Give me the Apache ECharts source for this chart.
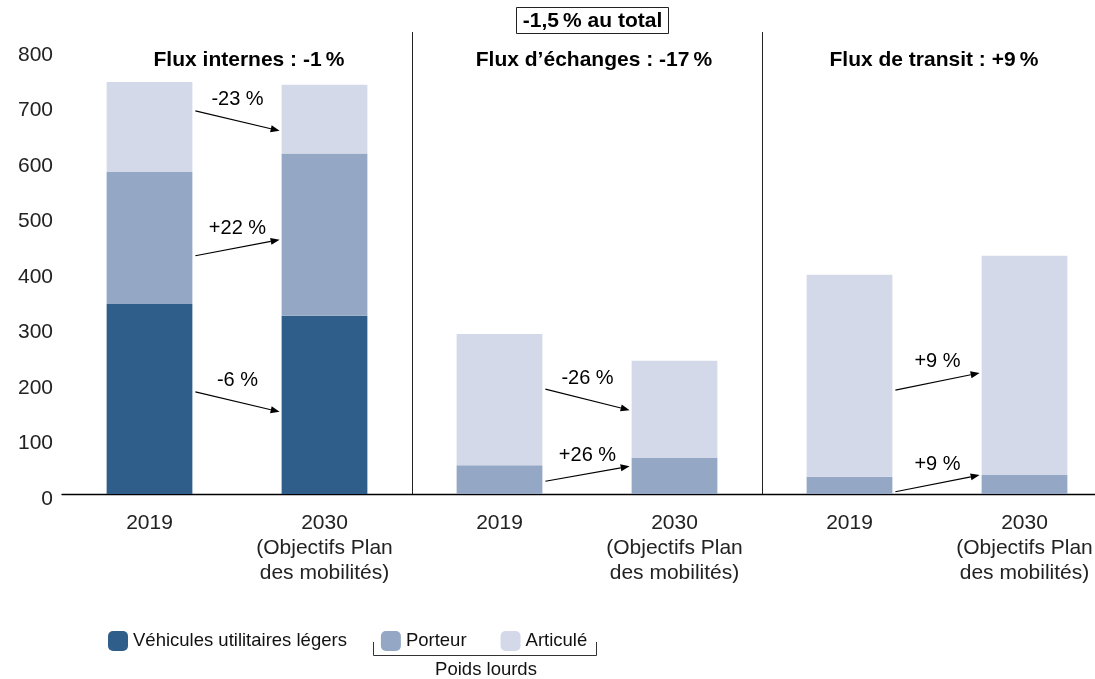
<!DOCTYPE html>
<html>
<head>
<meta charset="utf-8">
<script src="https://cdn.jsdelivr.net/npm/echarts@6/dist/echarts.min.js"></script>
<style>
  html, body { margin: 0; padding: 0; background: #fff; overflow: hidden; }
  /* the last category band runs past the right edge of the window */
  #chart { width: 1112px; height: 679px; }
</style>
</head>
<body>
<div id="chart"></div>
<script>
// Categories: three groups of flows, each with 2019 and the 2030 target
const categories = [
  '2019', '2030\n(Objectifs Plan\ndes mobilités)',
  '2019', '2030\n(Objectifs Plan\ndes mobilités)',
  '2019', '2030\n(Objectifs Plan\ndes mobilités)'
];

// Stacked values per vehicle type
const vul      = [342, 321, 0, 0, 0, 0];
const porteur  = [238, 292, 52, 65, 31, 34];
const articule = [162, 124, 236, 175, 364, 395];

const seriesNames = ['Véhicules utilitaires légers', 'Porteur', 'Articulé'];
const seriesColors = ['#2f5e8a', '#94a7c4', '#d3d9e8'];

// Panel headings and overall change
const panelTitles = ['Flux internes : -1\u202f%', 'Flux d\u2019échanges : -17\u202f%', 'Flux de transit : +9\u202f%'];
const totalNote = '-1,5\u202f% au total';
const groupLabel = 'Poids lourds';

// Change arrows between 2019 and 2030 bars of each panel (anchor values on the y scale)
const arrowPanel = [0, 0, 0, 1, 1, 2, 2];
const arrowFrom  = [690, 429, 184, 189, 23, 187, 4];
const arrowTo    = [654, 458, 148, 151, 50, 218, 34];
const arrowText  = ['-23 %', '+22 %', '-6 %', '-26 %', '+26 %', '+9 %', '+9 %'];

const FONT = '"Liberation Sans", Arial, Helvetica, sans-serif';
const BAR_RATIO = 0.49;

const chart = echarts.init(document.getElementById('chart'));

const arrowData = arrowPanel.map((p, i) => [2 * p, arrowFrom[i], 2 * p + 1, arrowTo[i], i]);

function renderArrow(params, api) {
  const a = api.coord([api.value(0), api.value(1)]);
  const b = api.coord([api.value(2), api.value(3)]);
  const band = api.size([1, 0])[0];
  const half = band * BAR_RATIO / 2;
  const x0 = a[0] + half + 3, y0 = a[1];
  const x1 = b[0] - half - 2, y1 = b[1];
  const ang = Math.atan2(y1 - y0, x1 - x0);
  const L = 9, W = 3.5;
  const bx = x1 - L * Math.cos(ang), by = y1 - L * Math.sin(ang);
  const nx = -Math.sin(ang) * W, ny = Math.cos(ang) * W;
  const idx = api.value(4);
  return {
    type: 'group',
    children: [
      { type: 'line', shape: { x1: x0, y1: y0, x2: bx, y2: by },
        style: { stroke: '#000', lineWidth: 1.2 } },
      { type: 'polygon', shape: { points: [[x1, y1], [bx + nx, by + ny], [bx - nx, by - ny]] },
        style: { fill: '#000' } },
      { type: 'text', x: (x0 + x1) / 2, y: Math.min(y0, y1) - 11,
        style: { text: arrowText[idx], fill: '#000', font: '20px ' + FONT,
                 align: 'center', verticalAlign: 'middle',
                 textAlign: 'center', textVerticalAlign: 'middle' } }
    ]
  };
}

const titleX = [249, 594, 934];
const graphics = panelTitles.map((t, i) => ({
  type: 'text', x: titleX[i], y: 60,
  style: { text: t, fill: '#000', font: 'bold 21px ' + FONT,
           align: 'center', verticalAlign: 'middle', textAlign: 'center', textVerticalAlign: 'middle' }
}));
graphics.push(
  { type: 'rect', shape: { x: 516.5, y: 7.5, width: 152, height: 26 },
    style: { fill: '#fff', stroke: '#222', lineWidth: 1 } },
  { type: 'text', x: 592.5, y: 21,
    style: { text: totalNote, fill: '#000', font: 'bold 21px ' + FONT,
             align: 'center', verticalAlign: 'middle', textAlign: 'center', textVerticalAlign: 'middle' } },
  { type: 'polyline', shape: { points: [[373.5, 642], [373.5, 655.5], [596.5, 655.5], [596.5, 642]] },
    style: { stroke: '#333', lineWidth: 1, fill: null } },
  { type: 'text', x: 486, y: 670,
    style: { text: groupLabel, fill: '#111', font: '18.5px ' + FONT,
             align: 'center', verticalAlign: 'middle', textAlign: 'center', textVerticalAlign: 'middle' } }
);

const barValues = [vul, porteur, articule];

chart.setOption({
  animation: false,
  backgroundColor: '#fff',
  textStyle: { fontFamily: FONT },
  grid: { left: 62, right: 0, top: 32, bottom: 185, containLabel: false },
  legend: {
    data: seriesNames,
    left: 103, top: 626,
    icon: 'roundRect',
    itemWidth: 20, itemHeight: 20, itemGap: 34,
    textStyle: { fontSize: 18.5, color: '#111', fontFamily: FONT },
    selectedMode: false
  },
  xAxis: {
    type: 'category',
    data: categories,
    axisLine: { show: true, lineStyle: { color: '#000', width: 1.3 } },
    axisTick: { show: false },
    axisLabel: { fontSize: 21, color: '#222', margin: 17, lineHeight: 25, interval: 0, fontFamily: FONT },
    splitLine: { show: true, interval: (i) => i === 2 || i === 4, lineStyle: { color: '#222', width: 1 } }
  },
  yAxis: {
    type: 'value',
    min: 0, max: 832, interval: 100,
    axisLine: { show: false },
    axisTick: { show: false },
    splitLine: { show: false },
    axisLabel: {
      margin: 9, showMaxLabel: false,
      formatter: '{v|{value}}',
      rich: { v: { fontSize: 21, color: '#222', fontFamily: FONT, padding: [10, 0, 0, 0] } }
    }
  },
  graphic: graphics,
  series: barValues.map((vals, k) => ({
    name: seriesNames[k],
    type: 'bar',
    stack: 'flux',
    barWidth: (BAR_RATIO * 100) + '%',
    data: vals,
    itemStyle: { color: seriesColors[k] },
    silent: true
  })).concat([{
    type: 'custom',
    name: 'arrows',
    renderItem: renderArrow,
    data: arrowData,
    encode: { x: [0, 2], y: [1, 3] },
    z: 10,
    silent: true
  }])
});
</script>
</body>
</html>
